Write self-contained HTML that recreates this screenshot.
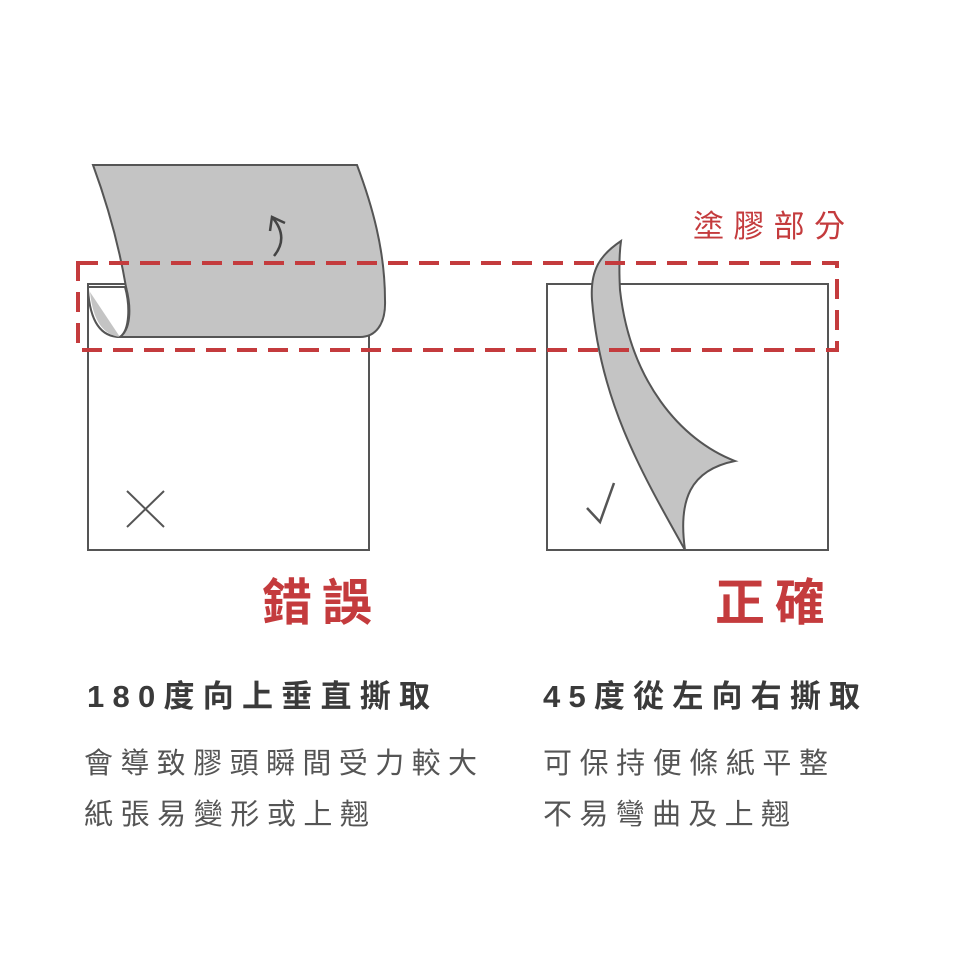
<!DOCTYPE html>
<html><head><meta charset="utf-8"><style>
html,body{margin:0;padding:0;background:#fff;}
svg{display:block}
text{font-family:"Liberation Sans","Noto Sans CJK TC",sans-serif;}
</style></head><body>
<svg width="960" height="960" viewBox="0 0 960 960" xmlns="http://www.w3.org/2000/svg">
<rect width="960" height="960" fill="#fff"/>
<rect x="88" y="284" width="281" height="266" fill="none" stroke="#555" stroke-width="2"/>
<path d="M88,287 L125,287 C130,305 130,330 120,337 C100,337 90,320 88,290 Z" fill="#fff" stroke="#555" stroke-width="2"/>
<path d="M90,292 L120,337 C104,335 93,322 90,292 Z" fill="#c4c4c4"/>
<path d="M93,165 L357,165 C372,205 385,250 385,300 C386,325 375,337 360,337 L120,337 C130,330 132,310 126,287 C118,240 104,195 93,165 Z" fill="#c4c4c4" stroke="#555" stroke-width="2"/>
<path d="M274,256 C283,245 285,232 272,217" fill="none" stroke="#444" stroke-width="2.5"/>
<path d="M270,231 L272,217 L285,223" fill="none" stroke="#444" stroke-width="2.5"/>
<path d="M127,491 L164,527 M164,491 L127,527" stroke="#555" stroke-width="2"/>
<rect x="547" y="284" width="281" height="266" fill="none" stroke="#555" stroke-width="2"/>
<path d="M621,241 C600,255 590,270 592,300 C600,400 640,470 685,550 C678,500 690,470 735,461 C680,440 630,380 620,290 C619,270 619,255 621,241 Z" fill="#c4c4c4" stroke="#555" stroke-width="2"/>
<path d="M587,508 L600,522 L614,483" fill="none" stroke="#555" stroke-width="2.5"/>
<rect x="78" y="263" width="759" height="87" fill="none" stroke="#c43b3d" stroke-width="4" stroke-dasharray="20,11"/>
<text x="693" y="237" font-size="31" fill="#c43b3d" textLength="152" lengthAdjust="spacing">塗膠部分</text>
<text x="262" y="620" font-size="50" font-weight="bold" fill="#c43b3d" textLength="110" lengthAdjust="spacing">錯誤</text>
<text x="715" y="620" font-size="50" font-weight="bold" fill="#c43b3d" textLength="110" lengthAdjust="spacing">正確</text>
<text x="87" y="707" font-size="31" font-weight="bold" fill="#3a3a3a" textLength="343" lengthAdjust="spacing">180度向上垂直撕取</text>
<text x="84" y="773" font-size="29" fill="#555" textLength="393" lengthAdjust="spacing">會導致膠頭瞬間受力較大</text>
<text x="84" y="824" font-size="29" fill="#555" textLength="285" lengthAdjust="spacing">紙張易變形或上翹</text>
<text x="543" y="707" font-size="31" font-weight="bold" fill="#3a3a3a" textLength="317" lengthAdjust="spacing">45度從左向右撕取</text>
<text x="543" y="773" font-size="29" fill="#555" textLength="285" lengthAdjust="spacing">可保持便條紙平整</text>
<text x="543" y="824" font-size="29" fill="#555" textLength="247" lengthAdjust="spacing">不易彎曲及上翹</text>
</svg>
</body></html>
